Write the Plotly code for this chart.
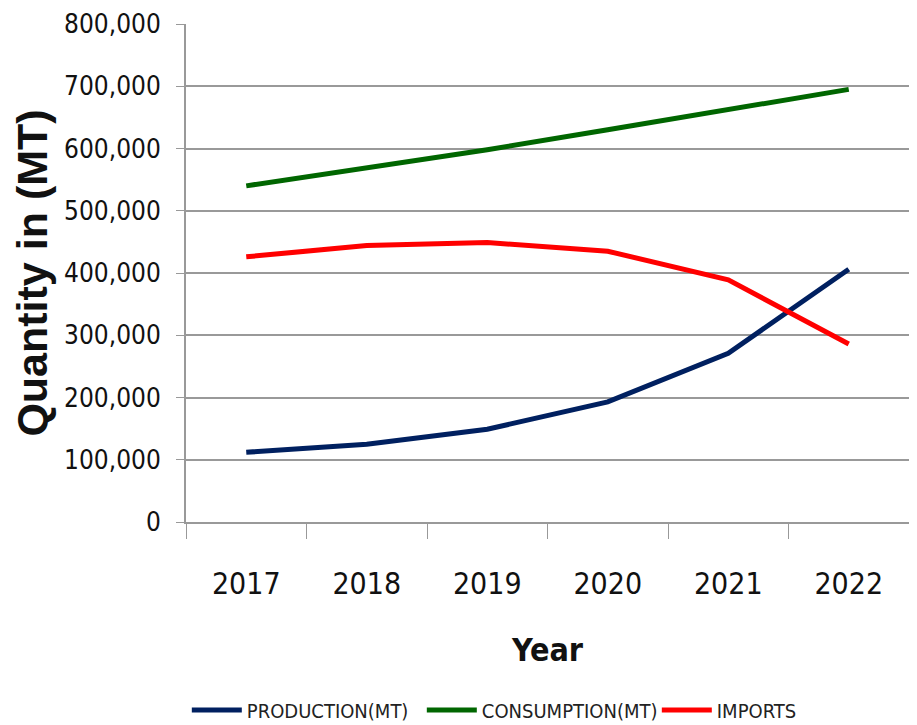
import plotly.graph_objects as go

years = ["2017", "2018", "2019", "2020", "2021", "2022"]
production = [112000, 125000, 149000, 193000, 271000, 406000]
consumption = [540000, 568000, 598000, 630000, 662000, 695000]
imports = [426000, 444000, 449000, 435000, 389000, 286000]

series = [
    ("PRODUCTION(MT)", production, "#002060"),
    ("CONSUMPTION(MT)", consumption, "#006600"),
    ("IMPORTS", imports, "#FF0000"),
]

fig = go.Figure()
for name, vals, col in series:
    fig.add_trace(go.Scatter(x=years, y=vals, name=name, mode="lines",
                             line=dict(color=col, width=5)))

narrow = "DejaVu Sans Condensed, Liberation Sans Narrow, Arial Narrow, sans-serif"
fig.add_annotation(text="<b>Year</b>", xref="paper", yref="paper", x=0.5, y=0,
                   xanchor="center", yanchor="middle", yshift=-128, showarrow=False,
                   font=dict(family=narrow, size=32, color="#111"))
fig.update_layout(
    width=917, height=725,
    margin=dict(l=178, r=16, t=16, b=211, autoexpand=False),
    paper_bgcolor="white", plot_bgcolor="white",
    showlegend=True,
    legend=dict(orientation="h", x=0.195, xanchor="left", xref="container",
                y=0.005, yanchor="bottom", yref="container",
                font=dict(family=narrow, size=20, color="#222"),
                itemwidth=50, entrywidth=170, entrywidthmode="pixels", tracegroupgap=0),
    xaxis=dict(type="category", range=[-0.5, 5.5], tickson="boundaries", ticks="outside", ticklen=15,
               tickcolor="#999", tickwidth=1, automargin=False, ticklabelstandoff=34,
               showline=True, linecolor="#999", linewidth=2, showgrid=False,
               tickfont=dict(family=narrow, size=30, color="#111")),
    yaxis=dict(range=[0, 800000], tickvals=[0, 100000, 200000, 300000, 400000, 500000, 600000, 700000, 800000],
               tickformat=",d", ticks="outside", ticklen=8, tickcolor="#999", automargin=False,
               ticklabelstandoff=10,
               showline=True, linecolor="#999", linewidth=2,
               showgrid=True, gridcolor="#999", gridwidth=2, zeroline=False,
               tickfont=dict(family=narrow, size=26, color="#111"),
               title=dict(text="<b>Quantity in (MT)</b>",
                          font=dict(family="Liberation Sans, Arial", size=43, color="#111"),
                          standoff=16)),
)
fig.write_html("out.html")
